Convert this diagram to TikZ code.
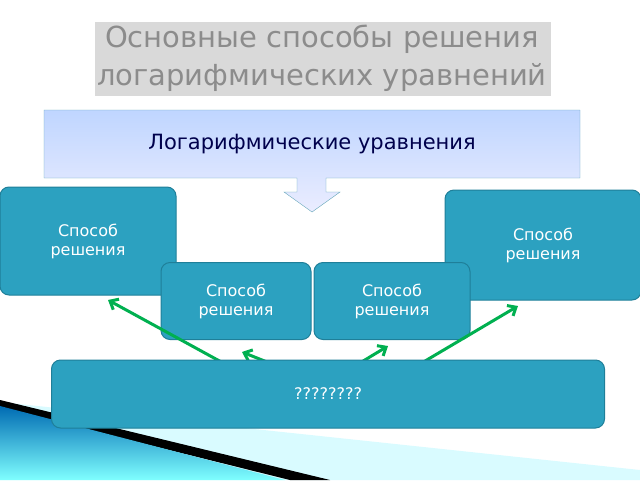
\documentclass[tikz,border=0pt]{standalone}
\usepackage{fontspec}
\setmainfont{DejaVu Sans}
\usetikzlibrary{shadows,arrows.meta}
\definecolor{box}{HTML}{2CA1C0}
\definecolor{boxb}{HTML}{1F7F99}
\definecolor{grn}{HTML}{00B050}
\definecolor{ttl}{HTML}{8C8C8C}
\begin{document}
\begin{tikzpicture}[x=1pt,y=-1pt,
  sb/.style={draw=boxb,line width=1pt,fill=box,rounded corners=9pt,text=white,font=\fontsize{16}{19}\selectfont,align=center},
  ga/.style={draw=grn,line width=3pt,-{Straight Barb[length=7pt,width=12pt]}}]
\useasboundingbox (0,0) rectangle (640,480);
% decoration
\fill[blue!10!cyan!15] (0,402) -- (640,470) -- (640,480) -- (0,480) -- cycle;
\fill[black] (0,400) -- (330,480) -- (290,480) -- (0,408) -- cycle;
\shade[left color=cyan!60!blue!70!black, right color=cyan!50, shading angle=0] (0,406) -- (285,480) -- (0,480) -- cycle;
% title
\node[text=ttl,font=\fontsize{29}{38}\selectfont,align=center,drop shadow={shadow xshift=1pt,shadow yshift=-1pt,opacity=.3}] (title) at (322,58) {Основные способы решения\\логарифмических уравнений};
% callout
\shade[top color=cyan!35!blue!25, bottom color=cyan!10!blue!8,draw=boxb!70!white]
 (44,110) -- (580,110) -- (580,178) -- (326,178) -- (326,192) -- (340,192) -- (312,212) -- (284,192) -- (297,192) -- (297,178) -- (44,178) -- cycle;
\node[text=blue!30!black,font=\fontsize{21}{25}\selectfont] (top) at (312,144) {Логарифмические уравнения};
% arrows
\coordinate (s1) at (225,364); \coordinate (s2) at (292,372);
\coordinate (s3) at (345,372); \coordinate (s4) at (420,364);
% boxes
\node[sb,minimum width=176pt,minimum height=108pt] (b1) at (88,241) {Способ\\решения};
\node[sb,minimum width=196pt,minimum height=110pt] (b4) at (543,245) {Способ\\решения};
\node[sb,minimum width=150pt,minimum height=77pt] (b2) at (236,301) {Способ\\решения};
\node[sb,minimum width=156pt,minimum height=77pt] (b3) at (392,301) {Способ\\решения};
\draw[ga] (s1) -- (108,300);
\draw[ga] (s2) -- (242,352);
\draw[ga] (s3) -- (388,346);
\draw[ga] (s4) -- (518,306);
\node[sb,minimum width=553pt,minimum height=68pt] (bot) at (328,394) {????????};
\end{tikzpicture}
\end{document}
